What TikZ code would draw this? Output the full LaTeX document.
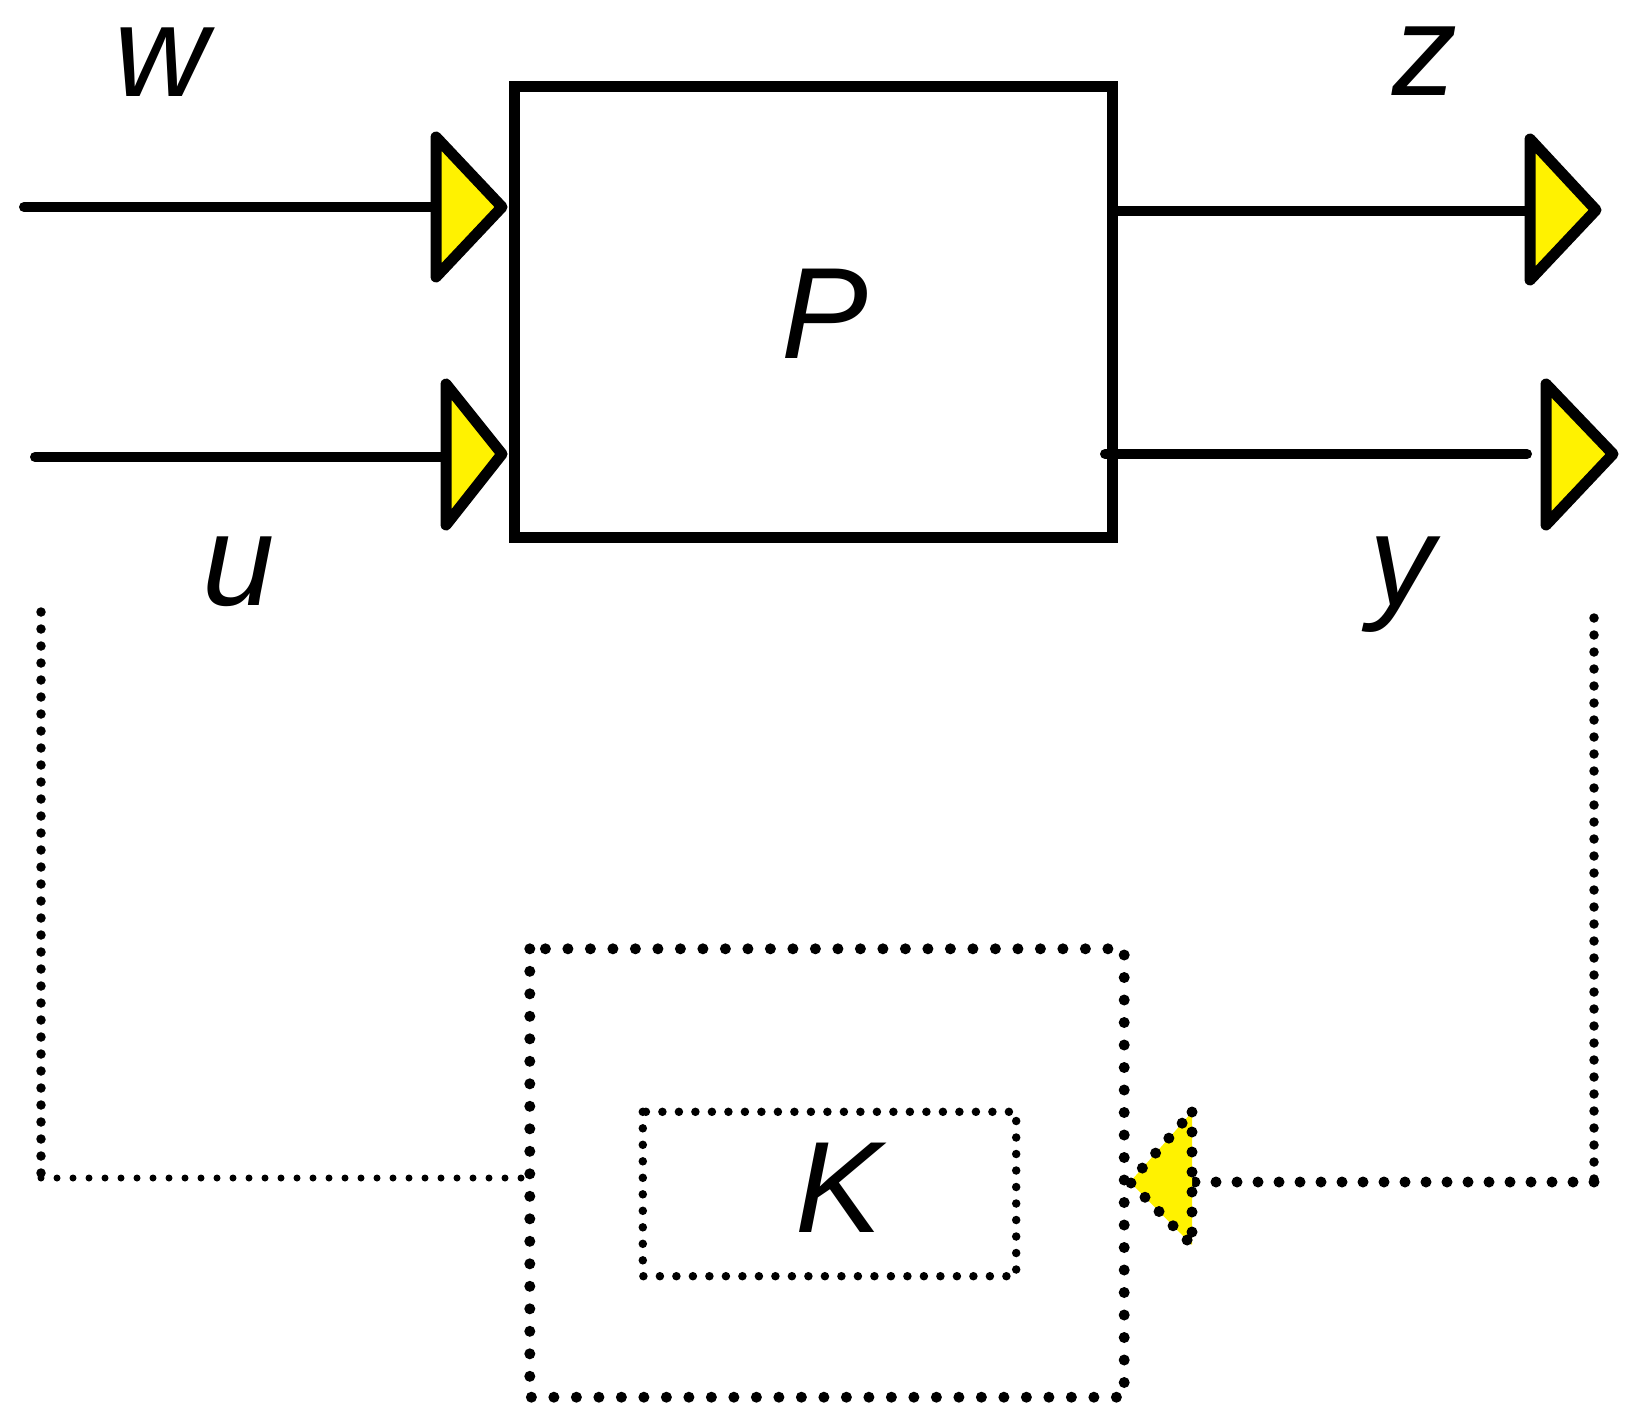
\documentclass[tikz,border=0pt]{standalone}
\usepackage{fontspec}
\setmainfont{Liberation Sans}
\begin{document}
\begin{tikzpicture}[x=1pt,y=-1pt,
  wire/.style={line width=10pt, line cap=round},
  arrowtri/.style={line width=11pt, fill=yellow, draw=black, line join=round},
  lbl/.style={font=\fontsize{130}{156}\selectfont\itshape, inner sep=0pt, anchor=base},
  dotline/.style 2 args={line width=#1, line cap=round, dash pattern=on 0pt off #2},
  blockbox/.style={draw, line width=11pt, inner sep=0pt}]
\useasboundingbox (0,0) rectangle (1633,1419);

% plant P
\node[blockbox, minimum width=598pt, minimum height=451pt] (P) at (813,312) {};
\node[lbl] (Plbl) at (825,358) {P};

% input w
\coordinate (wstart) at (24,207);
\coordinate (wend) at (436,207);
\draw[wire] (wstart) -- (wend);
\draw[arrowtri] (436,137) -- (436,277) -- (502,207) -- cycle;
\node[lbl] (wlbl) at (161,96) {w};

% input u
\coordinate (ustart) at (35,457);
\coordinate (uend) at (446,457);
\draw[wire] (ustart) -- (uend);
\draw[arrowtri] (446,384) -- (446,525) -- (502,454) -- cycle;
\node[lbl] (ulbl) at (239,605) {u};

% output z
\coordinate (zend) at (1530,211);
\draw[wire, line cap=butt] (P.east |- zend) -- (zend);
\draw[arrowtri] (1530,139) -- (1530,280) -- (1596,210) -- cycle;
\node[lbl] (zlbl) at (1425,95) {z};

% output y
\coordinate (ystart) at (1105,454);
\coordinate (yend) at (1527,454);
\draw[wire] (ystart) -- (yend);
\draw[arrowtri] (1546,384) -- (1546,525) -- (1613,454) -- cycle;
\node[lbl] (ylbl) at (1402,605) {y};

% controller K
\node[draw=none, minimum width=594pt, minimum height=448pt, inner sep=0pt] (Kout) at (827,1173) {};
\draw[dotline={11pt}{22.5pt}] (Kout.north west) rectangle (Kout.south east);
\node[draw=none, minimum width=373pt, minimum height=164pt, inner sep=0pt] (Kin) at (829.5,1194) {};
\draw[dotline={8.5pt}{16.5pt}] (Kin.north west) rectangle (Kin.south east);
\node[lbl] (Klbl) at (839,1232) {K};

% feedback u (left)
\coordinate (ldown) at (41,612);
\coordinate (lcorner) at (41,1178);
\draw[dotline={9.5pt}{17pt}] (ldown) -- (lcorner);
\draw[dotline={7pt}{16pt}] (lcorner) -- (Kout.west |- lcorner);

% feedback y (right)
\coordinate (rdown) at (1594,618);
\coordinate (rcorner) at (1594,1182);
\coordinate (kin) at (1195,1182);
\draw[dotline={9.5pt}{17pt}] (rdown) -- (rcorner);
\draw[dotline={11pt}{21pt}] (rcorner) -- (kin);
\fill[yellow] (1192,1112) -- (1192,1245) -- (1130,1182) -- cycle;
\draw[dotline={11pt}{20pt}] (1192,1112) -- (1192,1245) -- (1130,1182) -- cycle;
\end{tikzpicture}
\end{document}
